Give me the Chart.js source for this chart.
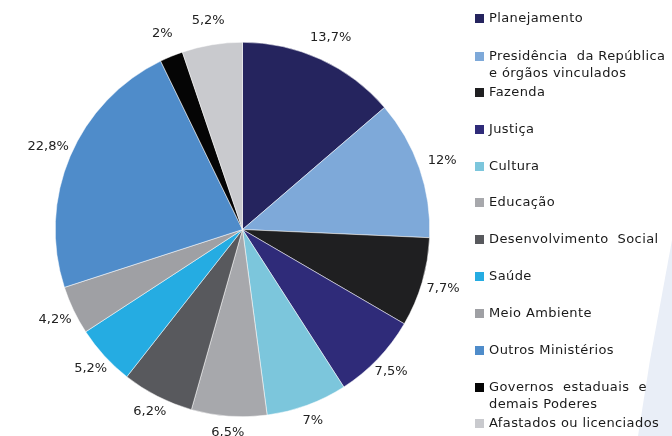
<!DOCTYPE html>
<html>
<head>
<meta charset="utf-8">
<script src="https://cdn.jsdelivr.net/npm/chart.js@4/dist/chart.umd.min.js"></script>
<style>
  html, body { margin: 0; padding: 0; background: #fff; }
  #wrap { position: relative; width: 672px; height: 436px; overflow: hidden; }
  #swoosh {
    position: absolute; left: 0; top: 0; width: 672px; height: 436px;
    background: #e9eef7;
    clip-path: polygon(638px 436px, 650px 360px, 672px 240px, 672px 436px);
  }
  #chart { position: absolute; left: 0; top: 0; }
  #legend {
    position: absolute; left: 475px; top: 0; width: 197px;
    font-family: "DejaVu Sans", sans-serif; font-size: 13px; letter-spacing: 0.4px; color: #1a1a1a;
  }
  .item { position: absolute; left: 0; line-height: 17px; white-space: nowrap; }
  .box { position: absolute; left: 0; top: 5px; width: 9px; height: 9px; }
  .txt { position: absolute; left: 14px; top: 0; }
</style>
</head>
<body>
<div id="wrap">
  <div id="swoosh"></div>
  <canvas id="chart" width="672" height="436"></canvas>
  <div id="legend"></div>
</div>
<script>
const labels = [
  ["Planejamento"],
  ["Presidência  da República", "e órgãos vinculados"],
  ["Fazenda"],
  ["Justiça"],
  ["Cultura"],
  ["Educação"],
  ["Desenvolvimento  Social"],
  ["Saúde"],
  ["Meio Ambiente"],
  ["Outros Ministérios"],
  ["Governos  estaduais  e", "demais Poderes"],
  ["Afastados ou licenciados"]
];
const values = [13.7, 12, 7.7, 7.5, 7, 6.5, 6.2, 5.2, 4.2, 22.8, 2, 5.2];
const valueLabels = ["13,7%", "12%", "7,7%", "7,5%", "7%", "6,5%", "6,2%", "5,2%", "4,2%", "22,8%", "2%", "5,2%"];
const colors = ["#25245e", "#7ea9d9", "#1f1f21", "#2f2b79", "#7cc6dc", "#a7a8ac",
  "#58595d", "#25ace2", "#9fa0a4", "#4f8cca", "#050505", "#c9cace"];
const legendTops = [9, 47, 83, 120, 157, 193, 230, 267, 304, 341, 378, 414];

// legend
const legend = document.getElementById("legend");
labels.forEach((lab, i) => {
  const item = document.createElement("div");
  item.className = "item";
  item.style.top = legendTops[i] + "px";
  item.innerHTML = '<div class="box" style="background:' + colors[i] + '"></div>' +
    '<div class="txt">' + lab.join("<br>").replace(/  /g, "&nbsp; ") + '</div>';
  legend.appendChild(item);
});

const outsideLabels = {
  id: "outsideLabels",
  afterDatasetsDraw(chart) {
    const ctx = chart.ctx;
    const meta = chart.getDatasetMeta(0);
    ctx.save();
    ctx.font = "13px 'DejaVu Sans', sans-serif";
    ctx.fillStyle = "#222";
    ctx.textAlign = "center";
    ctx.textBaseline = "middle";
    meta.data.forEach((arc, i) => {
      const p = arc.getProps(["x", "y", "startAngle", "endAngle", "outerRadius"], true);
      const mid = (p.startAngle + p.endAngle) / 2;
      // labels below the pie sit a little closer to the edge
      const d = p.outerRadius + 24 - 8 * Math.max(0, Math.sin(mid));
      ctx.fillText(valueLabels[i], p.x + Math.cos(mid) * d, p.y + Math.sin(mid) * d);
    });
    ctx.restore();
  }
};

new Chart(document.getElementById("chart"), {
  type: "pie",
  data: {
    labels: labels.map((l) => l.join(" ")),
    datasets: [{
      data: values,
      backgroundColor: colors,
      borderColor: "#ffffff",
      borderWidth: 0.5
    }]
  },
  options: {
    responsive: false,
    animation: false,
    layout: { padding: { left: 55, right: 242, top: 42, bottom: 19 } },
    plugins: {
      legend: { display: false },
      tooltip: { enabled: false }
    }
  },
  plugins: [outsideLabels]
});
</script>
</body>
</html>
